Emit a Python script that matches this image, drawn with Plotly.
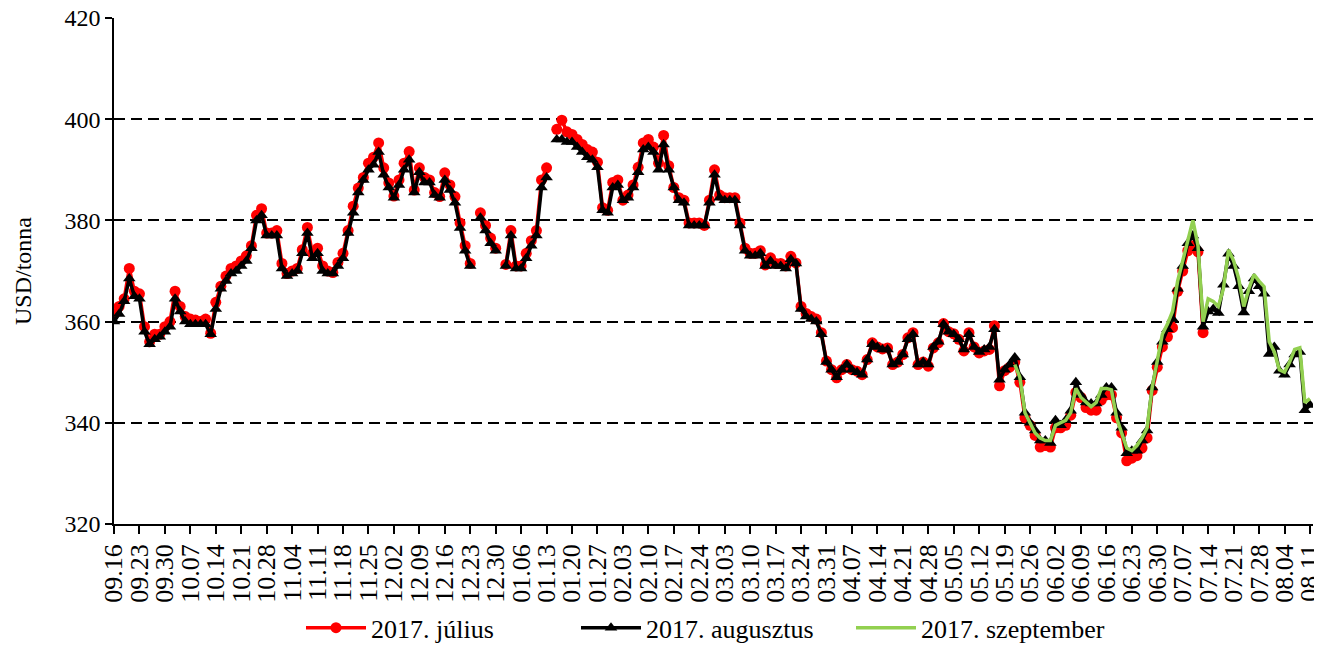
import pandas as pd
import plotly.graph_objects as go

# trading days (Mon-Fri) 2016.09.16 - 2017.08.11, labelled every Friday
days = pd.bdate_range("2016-09-16", "2017-08-11")
categories = [d.strftime("%m.%d") for d in days]
tick_labels = categories[::5]

N = None  # no quote (holiday)

# 2017. július contract, USD/tonna (one row per week, Mon..Fri)
julius = [
    361.5,
    363, 364.5, 370.5, 366, 365.5,
    359, 356, 357.5, 357.5, 359,
    360, 366, 363, 361, 360.5,
    360.3, 360, 360.5, 357.7, 363.8,
    367, 369, 370.5, 371, 372,
    373, 375, 381, 382.3, 377.5,
    377.5, 378, 371.5, 369.5, 370,
    370.5, 374.2, 378.6, 373.5, 374.5,
    371, 370, 369.7, 371.7, 373.5,
    378, 382.8, 386.4, 388.5, 391.3,
    392.5, 395.3, 390.4, 387.4, 384.8,
    388, 391.3, 393.6, 386, 390.4,
    388.5, 388, 385.5, 384.7, 389.4,
    387, 384.7, 379.5, 375, 371.5,
    N, 381.5, 379, 376.5, 374.5,
    N, 371.3, 378, 371, 371,
    373.5, 376, 378, 388, 390.4,
    N, 398, 399.8, 397.5, 397,
    396, 395, 394, 393.5, 391.5,
    382.5, 382, 387.5, 388, 384,
    385, 387, 390.5, 395.3, 396,
    394.5, 391.3, 396.8, 390.8, 386.5,
    384.5, 384, 379.5, 379.5, 379.5,
    379, 384, 390, 385, 384.5,
    384.5, 384.5, 379.5, 374.5, 373.5,
    373.5, 374, 371.2, 372.6, 371.5,
    371.5, 371, 372.9, 371.6, 363,
    361.6, 361, 360.5, 357.8, 352.2,
    350.5, 348.9, 350.5, 351.5, 350.5,
    350.2, 349.5, 352.5, 355.8, 355,
    354.6, 354.8, 351.5, 352, 353.5,
    356.8, 357.8, 351.5, 352, 351.2,
    354.8, 355.8, 359.6, 358, 357.6,
    356.5, 354.2, 357.8, 355, 353.8,
    354.2, 354.5, 359.2, 347.3, 350.3,
    351, 352, 348, 341, 339.5,
    337.5, 335.2, 335.5, 335.2, 339,
    339, 339.5, 341.5, 346, 345,
    343, 342.5, 342.5, 344.5, 345.5,
    345.5, 341, 338, 332.5, 333,
    333.5, 335, 337, 346.4, 351,
    355, 357, 358.8, 366, 370,
    374, 375, 373.8, 357.8,
]

# 2017. augusztus contract
augusztus = [
    360,
    361.5, 364, 368.5, 365, 364.5,
    358, 355.5, 356.5, 357, 358,
    359, 364.5, 362, 360, 359.5,
    359.5, 359.5, 359.5, 357.5, 362.5,
    366.5, 368, 369.5, 370, 371,
    372, 374.5, 380, 381, 377,
    377, 377, 370.5, 369, 369.5,
    370, 373.5, 377.5, 372.5, 373.5,
    370, 369.5, 369.5, 371, 372.5,
    377.5, 381.5, 385.5, 388, 390,
    391, 393.5, 389, 386.5, 384.5,
    387, 390, 392, 385.5, 389.5,
    387.5, 387.5, 385, 384.5, 388,
    386, 383.5, 378.5, 374, 371,
    N, 380.5, 378, 375.5, 374,
    N, 371, 377, 370.5, 370.5,
    372.5, 375, 377, 386.5, 388.5,
    N, 396, 396, 395.5, 395.5,
    394.5, 393.5, 392.5, 392, 390.5,
    382, 381.5, 386.5, 387, 384,
    384.5, 386.5, 389.5, 394, 394.5,
    393.5, 390, 395, 390, 386.5,
    384, 383.5, 379, 379, 379,
    379, 383.5, 389, 384.5, 384,
    384, 384, 379, 374, 373,
    373, 373.5, 371, 372, 371,
    371, 370.5, 372.3, 371.5, 362.5,
    361, 360.5, 360, 357.5, 352,
    350.5, 349, 350.5, 351.5, 350.5,
    350, 349.5, 352.5, 355.5, 355,
    354.5, 354.5, 351.5, 352, 353.5,
    356.5, 357.5, 351.5, 352, 351.5,
    355, 356, 359.5, 358, 357.5,
    356.5, 354.5, 357.5, 355, 354,
    354.5, 355, 358.5, 348.5, 350.5,
    351.5, 352.9, 349, 342, 340,
    338.5, 336.5, 336.5, 336, 340.5,
    339.5, 340.5, 342.4, 348, 345.5,
    344, 343.8, 343.8, 345.5, 347,
    347, 342, 339, 334, 334.5,
    334.5, 336.5, 338.5, 347, 352,
    356, 358.5, 360.5, 366.5, 371,
    375.5, 377, 374.5, 359, 362,
    362.5, 361.7, 367.3, 373.4, 371,
    367, 361.8, 366, 368.5, 367,
    365.5, 353.6, 355, 350.3, 349.5,
    351.5, 353.5, 354, 342.5, 343.5,
]

# 2017. szeptember contract, quoted from 05.23
szeptember_start = "05.23"
szeptember = [
    351.5, 349, 342, 340,
    338, 337, 336.5, 336.5, 339.5,
    340, 340.5, 342, 346.8, 345,
    344, 343.2, 344, 346.8, 346.8,
    346.5, 341, 338, 335, 334.5,
    335.5, 337, 339, 347, 352.5,
    357.5, 359.5, 362, 368, 372,
    376, 380, 375, 360, 364.5,
    364, 363, 366.5, 374.2, 372,
    368.5, 363, 366.5, 369.3, 368,
    366.9, 356, 354, 350.5, 350,
    352, 354.5, 354.8, 344, 344.8,
]

FONT = "Liberation Serif, Times New Roman, serif"
s0 = categories.index(szeptember_start)

fig = go.Figure()
fig.add_trace(go.Scatter(
    x=categories[:len(julius)], y=julius, name="2017. július",
    mode="lines+markers", line=dict(color="#FF0000", width=3.5),
    marker=dict(symbol="circle", size=11, color="#FF0000"),
))
fig.add_trace(go.Scatter(
    x=categories[:len(augusztus)], y=augusztus, name="2017. augusztus",
    mode="lines+markers", line=dict(color="#000000", width=3.5),
    marker=dict(symbol="triangle-up", size=11, color="#000000"),
))
fig.add_trace(go.Scatter(
    x=categories[s0:s0 + len(szeptember)], y=szeptember, name="2017. szeptember",
    mode="lines", line=dict(color="#92D050", width=3.5),
))

# the page body adds an 8px margin, so the figure is 8px smaller than the window
fig.update_layout(
    width=1314, height=659,
    margin=dict(l=106, r=9, t=10, b=143),
    paper_bgcolor="white", plot_bgcolor="white",
    font=dict(family=FONT, size=24, color="black"),
    showlegend=True,
    legend=dict(orientation="h", x=0.5, xanchor="center", y=-0.205, yanchor="middle",
                font=dict(family=FONT, size=26), entrywidth=200, itemwidth=60),
)
fig.update_xaxes(
    type="category", categoryorder="array", categoryarray=categories,
    range=[0, len(categories) - 0.4], automargin=False,
    tickmode="array", tickvals=tick_labels, ticktext=tick_labels,
    tickangle=-90, ticks="outside", ticklen=8, tickwidth=1.5, tickcolor="black",
    showline=True, linecolor="black", linewidth=1.5, showgrid=False,
    tickfont=dict(family=FONT, size=26), ticklabeloverflow="allow",
)
fig.update_yaxes(
    range=[320, 420], dtick=20, tick0=320, automargin=False,
    ticks="outside", ticklen=7, tickwidth=1.5, tickcolor="black",
    showline=True, linecolor="black", linewidth=1.5,
    showgrid=True, gridcolor="black", gridwidth=1.8, griddash="11px,6px",
    zeroline=False, ticklabeloverflow="allow",
    tickfont=dict(family=FONT, size=24),
    title=dict(text="USD/tonna", font=dict(family=FONT, size=24), standoff=26),
)

fig.write_html("out.html")
